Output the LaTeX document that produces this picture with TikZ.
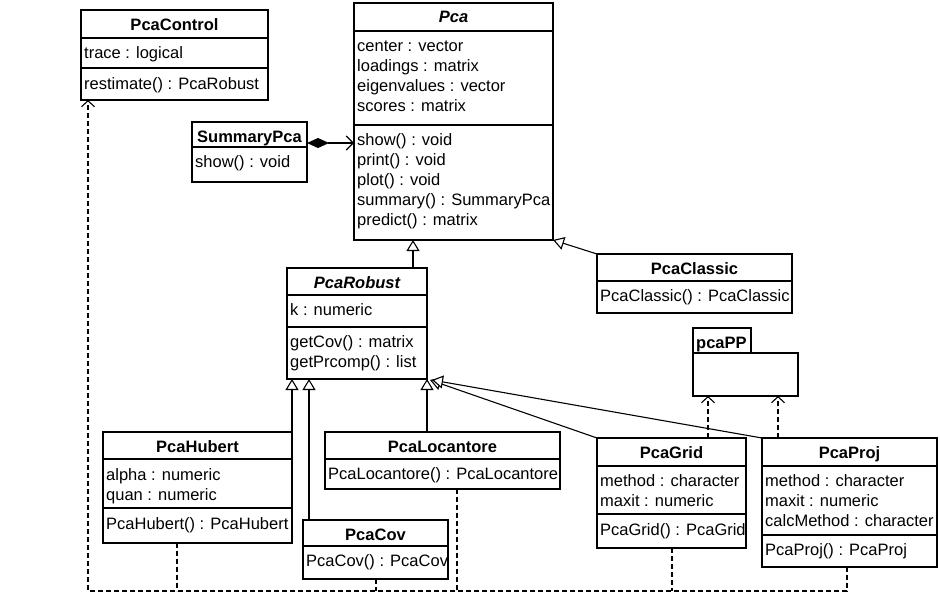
\documentclass[tikz,border=0pt]{standalone}
\usepackage{fontspec}
\setmainfont{Liberation Sans}
\usetikzlibrary{arrows.meta,fit}
\begin{document}
\begin{tikzpicture}[x=1pt,y=-1pt,
  font=\fontsize{16.5}{20}\selectfont,
  umlframe/.style={draw,line width=1.1pt,inner sep=0pt,outer sep=0pt},
  umlline/.style={line width=1.1pt},
  hd/.style={font=\fontsize{16.5}{20}\selectfont\bfseries,anchor=base,inner sep=0pt},
  hdi/.style={font=\fontsize{16.5}{20}\selectfont\bfseries\itshape,anchor=base,inner sep=0pt},
  tx/.style={anchor=base west,inner sep=0pt},
  inh/.style={line width=1.1pt,-{Triangle[open,length=11pt,width=13pt,fill=white]}},
  dep/.style={line width=1.1pt,dash pattern=on 5pt off 3pt,-{Straight Barb[length=6pt,width=13pt]}},
  depline/.style={line width=1.1pt,dash pattern=on 5pt off 3pt},
  comp/.style={line width=1.1pt,{Diamond[length=22pt,width=10pt,fill=black]}-{Straight Barb[length=7pt,width=14pt]}}
]
\useasboundingbox (0,0) rectangle (940,597);

% PcaControl
\node[umlframe,fit={(81,10) (268,100)}] (control) {};
\draw[umlline] (control.west |- 0,38) -- (control.east |- 0,38);
\draw[umlline] (control.west |- 0,68) -- (control.east |- 0,68);
\node[hd] (control-h) at (control.north |- 0,30) {PcaControl};
\node[tx] (control-a1) at (84,58) {trace : logical};
\node[tx] (control-m1) at (84,89) {restimate() : PcaRobust};

% Pca
\node[umlframe,fit={(354,3) (553,240)}] (pca) {};
\draw[umlline] (pca.west |- 0,31) -- (pca.east |- 0,31);
\draw[umlline] (pca.west |- 0,125) -- (pca.east |- 0,125);
\node[hdi] (pca-h) at (pca.north |- 0,23) {Pca};
\node[tx] (pca-a1) at (357,51) {center : vector};
\node[tx] (pca-a2) at (357,71) {loadings : matrix};
\node[tx] (pca-a3) at (357,91) {eigenvalues : vector};
\node[tx] (pca-a4) at (357,111) {scores : matrix};
\node[tx] (pca-m1) at (357,145) {show() : void};
\node[tx] (pca-m2) at (357,165) {print() : void};
\node[tx] (pca-m3) at (357,185) {plot() : void};
\node[tx] (pca-m4) at (357,205) {summary() : SummaryPca};
\node[tx] (pca-m5) at (357,225) {predict() : matrix};

% SummaryPca
\node[umlframe,fit={(192,122) (307,182)}] (summary) {};
\draw[umlline] (summary.west |- 0,147) -- (summary.east |- 0,147);
\node[hd] (summary-h) at (summary.north |- 0,142) {SummaryPca};
\node[tx] (summary-m1) at (195,167) {show() : void};

% PcaRobust
\node[umlframe,fit={(287,268) (427,379)}] (robust) {};
\draw[umlline] (robust.west |- 0,295) -- (robust.east |- 0,295);
\draw[umlline] (robust.west |- 0,327) -- (robust.east |- 0,327);
\node[hdi] (robust-h) at (robust.north |- 0,288) {PcaRobust};
\node[tx] (robust-a1) at (290,315) {k : numeric};
\node[tx] (robust-m1) at (290,347) {getCov() : matrix};
\node[tx] (robust-m2) at (290,367) {getPrcomp() : list};

% PcaClassic
\node[umlframe,fit={(597,254) (792,313)}] (classic) {};
\draw[umlline] (classic.west |- 0,281) -- (classic.east |- 0,281);
\node[hd] (classic-h) at (classic.north |- 0,274) {PcaClassic};
\node[tx] (classic-m1) at (600,301) {PcaClassic() : PcaClassic};

% pcaPP package
\node[umlframe,fit={(693,328) (751,353)}] (pptab) {};
\node[umlframe,fit={(693,353) (798,396)}] (pp) {};
\node[hd,anchor=base west] (pp-h) at (696,348) {pcaPP};

% PcaHubert
\node[umlframe,fit={(103,432) (292,543)}] (hubert) {};
\draw[umlline] (hubert.west |- 0,459) -- (hubert.east |- 0,459);
\draw[umlline] (hubert.west |- 0,508) -- (hubert.east |- 0,508);
\node[hd] (hubert-h) at (hubert.north |- 0,452) {PcaHubert};
\node[tx] (hubert-a1) at (106,480) {alpha : numeric};
\node[tx] (hubert-a2) at (106,500) {quan : numeric};
\node[tx] (hubert-m1) at (106,529) {PcaHubert() : PcaHubert};

% PcaLocantore
\node[umlframe,fit={(325,432) (560,489)}] (locantore) {};
\draw[umlline] (locantore.west |- 0,459) -- (locantore.east |- 0,459);
\node[hd] (locantore-h) at (locantore.north |- 0,452) {PcaLocantore};
\node[tx] (locantore-m1) at (328,479) {PcaLocantore() : PcaLocantore};

% PcaCov
\node[umlframe,fit={(303,520) (448,579)}] (cov) {};
\draw[umlline] (cov.west |- 0,546) -- (cov.east |- 0,546);
\node[hd] (cov-h) at (cov.north |- 0,540) {PcaCov};
\node[tx] (cov-m1) at (306,566) {PcaCov() : PcaCov};

% PcaGrid
\node[umlframe,fit={(597,438) (746,548)}] (grid) {};
\draw[umlline] (grid.west |- 0,466) -- (grid.east |- 0,466);
\draw[umlline] (grid.west |- 0,514) -- (grid.east |- 0,514);
\node[hd] (grid-h) at (grid.north |- 0,458) {PcaGrid};
\node[tx] (grid-a1) at (600,486) {method : character};
\node[tx] (grid-a2) at (600,506) {maxit : numeric};
\node[tx] (grid-m1) at (600,535) {PcaGrid() : PcaGrid};

% PcaProj
\node[umlframe,fit={(762,438) (937,567)}] (proj) {};
\draw[umlline] (proj.west |- 0,466) -- (proj.east |- 0,466);
\draw[umlline] (proj.west |- 0,535) -- (proj.east |- 0,535);
\node[hd] (proj-h) at (proj.north |- 0,458) {PcaProj};
\node[tx] (proj-a1) at (765,486) {method : character};
\node[tx] (proj-a2) at (765,506) {maxit : numeric};
\node[tx] (proj-a3) at (765,526) {calcMethod : character};
\node[tx] (proj-m1) at (765,555) {PcaProj() : PcaProj};

% composition
\draw[comp] (summary.east |- 0,143) -- (pca.west |- 0,143);

% generalizations
\draw[inh] (robust.north -| 413,0) -- (pca.south -| 413,0);
\draw[inh] (classic.north west) -- (pca.south east);
\draw[inh] (hubert.north east) -- (hubert.north east |- robust.south);
\draw[inh] (cov.north -| 309,0) -- (robust.south -| 309,0);
\draw[inh] (locantore.north -| 427,0) -- (robust.south east);
\draw[inh] (grid.north west) -- ([xshift=3pt,yshift=-1pt]robust.south east);
\draw[inh] (proj.north west) -- ([xshift=5pt,yshift=-1pt]robust.south east);

% dependencies to pcaPP
\draw[dep] (grid.north -| 708,0) -- (pp.south -| 708,0);
\draw[dep] (proj.north -| 778,0) -- (pp.south -| 778,0);

% dependencies to PcaControl
\coordinate (tL) at (88,591);
\coordinate (tR) at (847,591);
\draw[dep] (proj.south -| tR) -- (tR) -- (tL) -- (control.south -| tL);
\draw[depline] (hubert.south -| 177,0) -- (tL -| 177,0);
\draw[depline] (cov.south -| 376,0) -- (tL -| 376,0);
\draw[depline] (locantore.south -| 457,0) -- (tL -| 457,0);
\draw[depline] (grid.south -| 672,0) -- (tL -| 672,0);
\end{tikzpicture}
\end{document}
